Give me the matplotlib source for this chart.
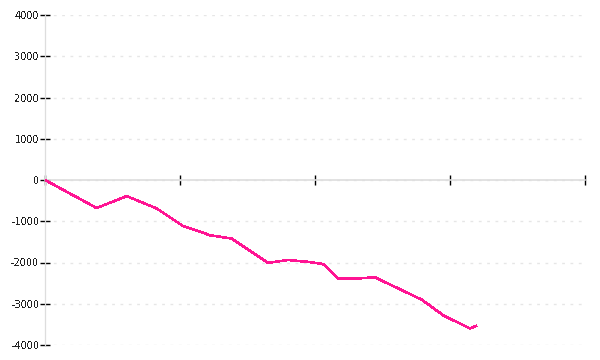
import matplotlib
matplotlib.use("Agg")
import matplotlib.pyplot as plt

# Data
x_vals = [0, 38.3, 60.5, 82.7, 102.4, 114.8, 122.2, 138.3, 165.4, 168.9,
          180.2, 196.3, 206.1, 217.3, 229.6, 244.4, 279.0, 295.0, 314.8, 319.3]
y_vals = [0, -680, -390, -690, -1120, -1250, -1340, -1420, -2010, -1990,
          -1940, -1990, -2040, -2390, -2390, -2360, -2900, -3280, -3600, -3540]
x_ticks = [0, 100, 200, 300, 400]
y_ticks = [-4000, -3000, -2000, -1000, 0, 1000, 2000, 3000, 4000]

plt.rcParams['font.family'] = ['DejaVu Sans']
plt.rcParams['text.antialiased'] = False

fig = plt.figure(figsize=(6, 3.6), dpi=100)
ax = fig.add_axes([45/600, 1 - 345/360, 540/600, 330/360])

ax.plot(x_vals, y_vals, color='#ff1493', lw=1.15, antialiased=False,
        solid_joinstyle='miter', zorder=3)

ax.set_xlim(0, 400)
ax.set_ylim(-4000, 4000)
ax.set_xticks(x_ticks)
ax.set_xticklabels([])
ax.set_yticks(y_ticks)
ax.set_yticklabels([str(v) for v in y_ticks])

for s in ['top', 'right']:
    ax.spines[s].set_visible(False)
ax.spines['bottom'].set_position(('data', 0))
ax.spines['bottom'].set_color('#dddddd')
ax.spines['bottom'].set_linewidth(1.2)
ax.spines['left'].set_color('#dddddd')
ax.spines['left'].set_linewidth(0.9)

ax.tick_params(axis='x', direction='inout', length=7.5, width=1, color='black')
ax.tick_params(axis='y', direction='inout', length=6.5, width=1, color='black',
               labelsize=7, pad=1, labelcolor='#222222')

ax.yaxis.grid(True, color='#e6e6e6', linestyle=(0, (2, 4)), linewidth=1)
ax.xaxis.grid(False)
ax.set_axisbelow(True)

fig.savefig('out.png', dpi=100)
